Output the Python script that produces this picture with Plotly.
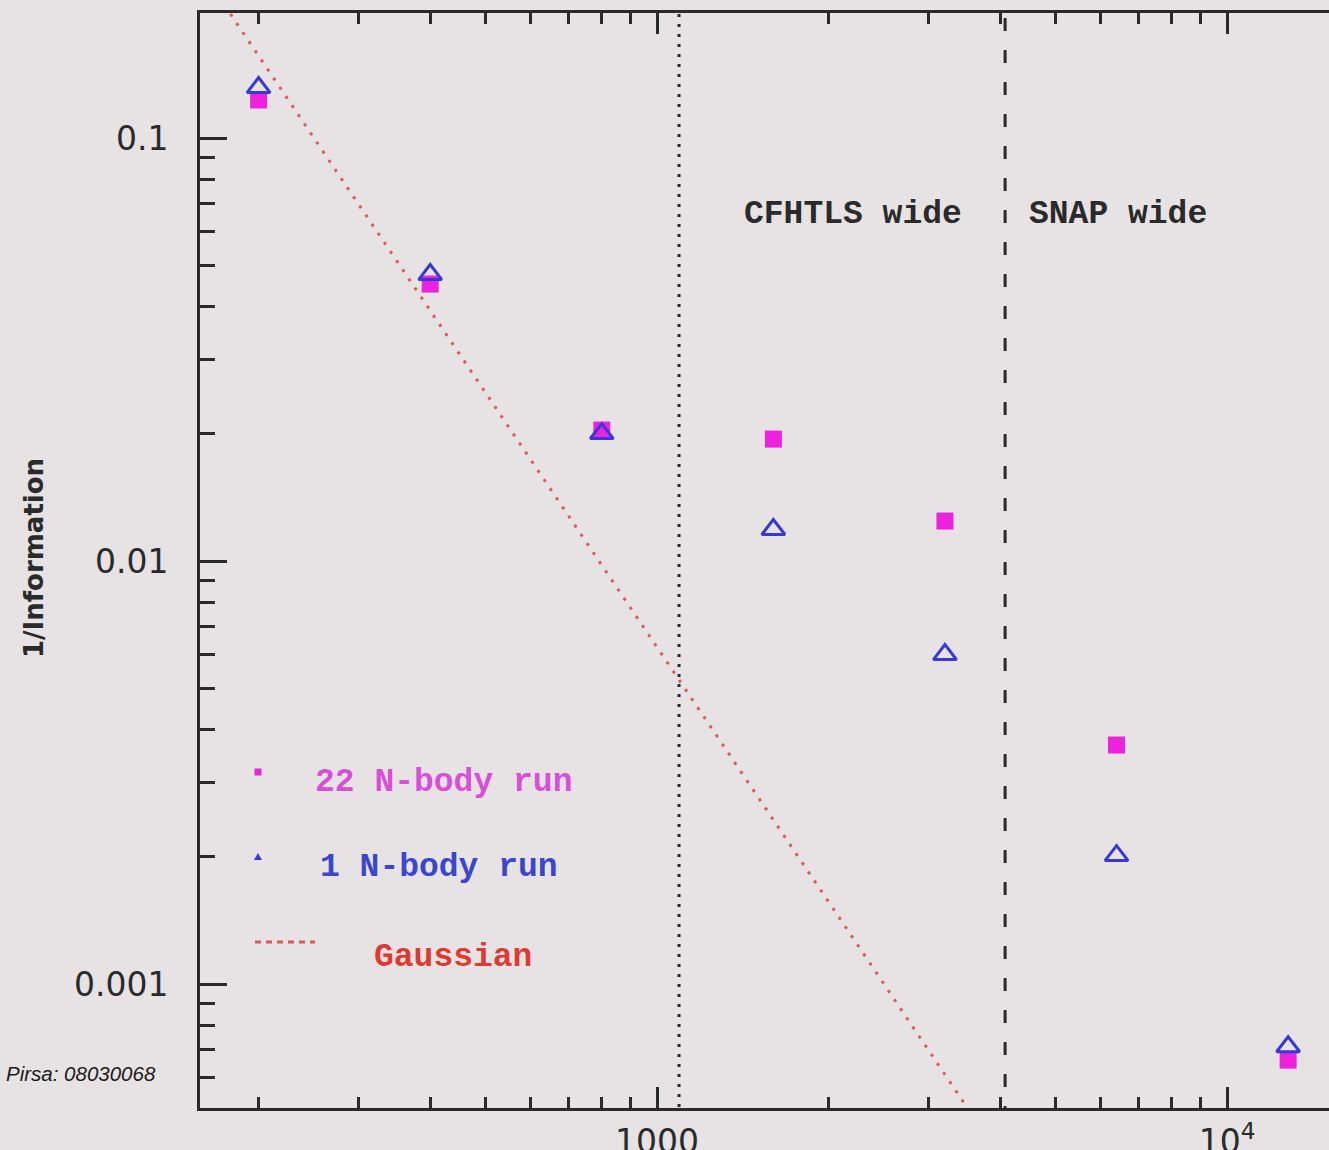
import plotly.graph_objects as go

# ---------------- data ----------------
ell = [200, 400, 800, 1600, 3200, 6400, 12800]
inv_info_22runs = [0.1230, 0.04516, 0.02040, 0.01942, 0.01243, 0.003673, 0.000661]
inv_info_1run = [0.1316, 0.04755, 0.02001, 0.01187, 0.00601, 0.002012, 0.000711]
gauss_x = [150, 4000]
gauss_y = [0.278, 0.000391]
survey_limits = [1093, 4080]
survey_labels = ["CFHTLS wide", "SNAP wide"]
legend_labels = ["22 N-body run", "1 N-body run", "Gaussian"]
xtick_vals = [1000, 10000]
xtick_text = ["1000", "10<sup>4</sup>"]
ytick_vals = [0.1, 0.01, 0.001]
ytick_text = ["0.1", "0.01", "0.001"]
y_title = "1/Information"
watermark = "Pirsa: 08030068"

# ---------------- style ----------------
BG = "#e7e2e4"
INK = "#2a2a2a"
MAGENTA = "#ec22dc"
BLUE = "#3838d6"
RED = "#dc5a5a"
MAG_TXT = "#d84ed6"
BLUE_TXT = "#3a46cc"
RED_TXT = "#de3a32"

W, H = 1329, 1150
L, R, T, B = 200, 1329, 13, 1108
XR = [2.1982, 4.1789]
YR = [-3.293, -0.7045]


def px(x):
    return (x - L) / (R - L)


def py(y):
    return (B - y) / (B - T)


fig = go.Figure()

# survey limits (vertical lines)
dashes = ["3px,7px", "13px,19px"]
for xv, d in zip(survey_limits, dashes):
    fig.add_trace(go.Scatter(x=[xv, xv], y=[1e-4, 1.0], mode="lines",
                             line=dict(color=INK, width=3, dash=d),
                             hoverinfo="skip", showlegend=False))

# Gaussian
fig.add_trace(go.Scatter(x=gauss_x, y=gauss_y, mode="lines",
                         line=dict(color=RED, width=3, dash="3px,8px"),
                         showlegend=False))

# 22 N-body runs
fig.add_trace(go.Scatter(x=ell, y=inv_info_22runs, mode="markers",
                         marker=dict(symbol="square", size=17, color=MAGENTA),
                         showlegend=False))
# 1 N-body run
fig.add_trace(go.Scatter(x=ell, y=inv_info_1run, mode="markers",
                         marker=dict(symbol="triangle-up-open", size=20, color=BLUE,
                                     line=dict(width=3, color=BLUE)),
                         showlegend=False))

axis_common = dict(type="log", showgrid=False, zeroline=False, automargin=False,
                   linecolor=INK, linewidth=3, ticks="inside", tickcolor=INK,
                   tickfont=dict(family="DejaVu Sans", size=33, color=INK))

fig.update_layout(
    width=W, height=H,
    margin=dict(l=L, r=W - R, t=T, b=H - B, autoexpand=False),
    paper_bgcolor=BG, plot_bgcolor=BG,
    showlegend=False,
    xaxis=dict(**axis_common, range=XR, showline=True, mirror="ticks",
               tickmode="array", tickvals=xtick_vals, ticktext=xtick_text,
               ticklen=21, tickwidth=3, ticklabelstandoff=2,
               minor=dict(ticks="inside", ticklen=11, tickwidth=2.5, tickcolor=INK,
                          dtick="D1", showgrid=False)),
    yaxis=dict(**axis_common, range=YR, showline=True, mirror=False,
               tickmode="array", tickvals=ytick_vals, ticktext=ytick_text,
               ticklen=27, tickwidth=3, ticklabelstandoff=22,
               minor=dict(ticks="inside", ticklen=15, tickwidth=2.5, tickcolor=INK,
                          dtick="D1", showgrid=False)),
    yaxis2=dict(type="log", overlaying="y", side="right", range=YR, showgrid=False,
                zeroline=False, showline=False, ticks="inside", tickcolor=INK,
                automargin=False,
                tickmode="array", tickvals=ytick_vals, showticklabels=False,
                ticklen=27, tickwidth=3,
                minor=dict(ticks="inside", ticklen=15, tickwidth=2.5, tickcolor=INK,
                           dtick="D1", showgrid=False)),
)

ann = []
# survey labels
for lab, xl in zip(survey_labels, [742, 1027]):
    ann.append(dict(text="<b>%s</b>" % lab, x=px(xl), y=py(215), xref="paper", yref="paper",
                    xanchor="left", yanchor="middle", showarrow=False,
                    font=dict(family="Liberation Mono", size=33, color=INK)))
# legend texts
for lab, xl, yl, c in zip(legend_labels, [313, 318, 372], [782, 867, 957],
                          [MAG_TXT, BLUE_TXT, RED_TXT]):
    ann.append(dict(text="<b>%s</b>" % lab, x=px(xl), y=py(yl), xref="paper", yref="paper",
                    xanchor="left", yanchor="middle", showarrow=False,
                    font=dict(family="Liberation Mono", size=33, color=c)))
# y title
ann.append(dict(text="<b>%s</b>" % y_title, x=px(34), y=py(558), xref="paper", yref="paper",
                xanchor="center", yanchor="middle", textangle=-90, showarrow=False,
                font=dict(family="DejaVu Sans", size=26, color=INK)))
# watermark
ann.append(dict(text="<i>%s</i>" % watermark, x=px(4), y=py(1073), xref="paper", yref="paper",
                xanchor="left", yanchor="middle", showarrow=False,
                font=dict(family="Liberation Sans", size=20.5, color="#1a1a1a")))
fig.update_layout(annotations=ann)

# legend symbols (shapes in paper coordinates)
shapes = [
    dict(type="rect", xref="paper", yref="paper", x0=px(254.5), x1=px(261.5),
         y0=py(775.5), y1=py(768.5), fillcolor=MAGENTA, line=dict(width=0)),
    dict(type="path", xref="paper", yref="paper",
         path="M %f %f L %f %f L %f %f Z" % (px(254), py(860), px(262), py(860), px(258), py(853)),
         fillcolor=BLUE, line=dict(width=0)),
    dict(type="line", xref="paper", yref="paper", x0=px(255), x1=px(315),
         y0=py(942), y1=py(942), line=dict(color=RED, width=3, dash="6px,5px")),
]
fig.update_layout(shapes=shapes)

fig.write_html("out.html", config={"displayModeBar": False},
               post_script="document.body.style.margin='0';document.body.style.overflow='hidden';")
